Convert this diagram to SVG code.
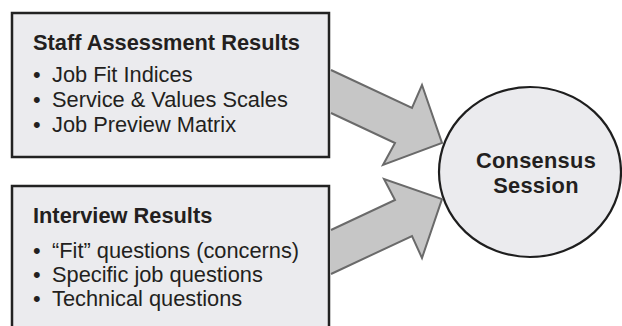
<svg xmlns="http://www.w3.org/2000/svg" width="622" height="326" viewBox="0 0 622 326">
  <style>
    .box { fill: #ebebee; stroke: #222; stroke-width: 2.5; }
    .oval { fill: #ebebee; stroke: #1e1e1e; stroke-width: 2.2; }
    .arrow { fill: #c6c6c6; stroke: #6a6a6a; stroke-width: 2; stroke-linejoin: miter; }
    text { font-family: "Liberation Sans", Arial, Helvetica, sans-serif; fill: #231f20; font-size: 21.8px; }
    .title { font-weight: bold; }
    .center { text-anchor: middle; font-weight: bold; letter-spacing: 0.3px; }
  </style>
  <rect width="622" height="326" fill="#ffffff"/>

  <g id="staff-assessment">
    <rect class="box" x="12" y="13" width="317" height="144"/>
    <text class="title" x="33" y="50">Staff Assessment Results</text>
    <text x="33" y="82">•</text><text x="52" y="82">Job Fit Indices</text>
    <text x="33" y="107">•</text><text x="52" y="107">Service &amp; Values Scales</text>
    <text x="33" y="132">•</text><text x="52" y="132">Job Preview Matrix</text>
  </g>

  <g id="interview-results">
    <rect class="box" x="12" y="186" width="317" height="150"/>
    <text class="title" x="33" y="223">Interview Results</text>
    <text x="33" y="258">•</text><text x="52" y="258">“Fit” questions (concerns)</text>
    <text x="33" y="282">•</text><text x="52" y="282">Specific job questions</text>
    <text x="33" y="306">•</text><text x="52" y="306">Technical questions</text>
  </g>

  <g id="consensus-session">
    <ellipse class="oval" cx="530" cy="172" rx="91" ry="85"/>
    <text class="center" x="536" y="168">Consensus</text>
    <text class="center" x="536" y="193">Session</text>
  </g>

  <g id="connectors">
    <path class="arrow" d="M331,70 L412,108 L422,85 L442,143 L383,165 L395,143 L331,113"/>
    <path class="arrow" d="M331,230 L395,200 L384,179 L442,199 L422,258 L412,236 L331,274"/>
  </g>
</svg>
